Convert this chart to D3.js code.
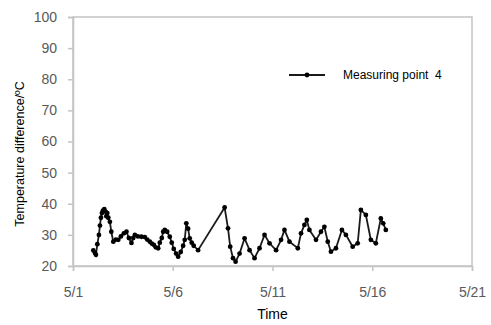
<!DOCTYPE html>
<html>
<head>
<meta charset="utf-8">
<script src="https://cdn.jsdelivr.net/npm/d3@7"></script>
<style>
  body { margin: 0; background: #fff; }
  text { font-family: "Liberation Sans", Arial, sans-serif; }
</style>
</head>
<body>
<div id="container"></div>
<script>
/* CONSTANTS AND GLOBALS */
const width = 491;
const height = 325;
const margin = {top: 17, bottom: 59, left: 73, right: 19};

/* DATA */
// time as day of May (decimal), values in degrees C
const seriesName = "Measuring point  4";
const days = [
  2.02, 2.10, 2.15, 2.22, 2.30, 2.35, 2.40, 2.45, 2.50, 2.57,
  2.62, 2.67, 2.72, 2.77, 2.85, 2.92, 3.02,
  3.15, 3.27, 3.40, 3.55, 3.68, 3.80, 3.93, 4.02, 4.10, 4.25, 4.43, 4.60,
  4.72, 4.85, 4.95, 5.05, 5.15, 5.27, 5.35, 5.45, 5.52, 5.60, 5.72, 5.85,
  5.95, 6.05, 6.17, 6.27, 6.40, 6.52, 6.60, 6.68, 6.77, 6.85, 6.95, 7.05, 7.27,
  8.60, 8.77, 8.88, 9.02, 9.15, 9.35, 9.60, 9.85, 10.10, 10.35, 10.60,
  10.85, 11.18, 11.43, 11.60, 11.85, 12.27, 12.43, 12.60, 12.72, 12.85,
  13.18, 13.43, 13.60, 13.77, 13.93, 14.18, 14.48, 14.68, 15.02, 15.27,
  15.43, 15.68, 15.93, 16.18, 16.43, 16.55, 16.68
];
const values = [
  25.0, 24.2, 23.6, 27.0, 30.0, 33.0, 35.5, 37.0, 37.8, 38.3,
  37.5, 36.0, 37.0, 35.5, 34.2, 31.0, 27.8,
  28.5, 28.4, 29.5, 30.5, 31.0, 29.0, 27.4, 29.0, 30.0, 29.5, 29.4, 29.3,
  28.5, 27.8, 27.2, 26.8, 26.0, 25.7, 27.5, 29.0, 31.0, 31.6, 31.0, 29.4,
  27.5, 25.5, 24.0, 23.0, 24.5, 26.5, 28.4, 33.7, 32.0, 28.9, 27.5, 26.5, 25.1,
  38.8, 32.1, 26.2, 22.5, 21.4, 24.0, 28.9, 25.1, 22.5, 25.7, 30.0,
  27.3, 25.1, 28.4, 31.6, 27.8, 25.7, 30.5, 33.2, 34.8, 31.6,
  28.4, 31.0, 32.6, 27.8, 24.6, 25.7, 31.6, 30.0, 26.2, 27.3,
  38.0, 36.4, 28.4, 27.3, 35.3, 33.7, 31.6
];
const xTicks = [1, 6, 11, 16, 21];
const yTicks = [20, 30, 40, 50, 60, 70, 80, 90, 100];

const data = days.map((d, i) => ({day: d, value: values[i]}));

/* SCALES */
const xScale = d3.scaleLinear()
  .domain([1, 21])
  .range([margin.left, width - margin.right]);

const yScale = d3.scaleLinear()
  .domain([20, 100])
  .range([height - margin.bottom, margin.top]);

/* HTML ELEMENTS */
const svg = d3.select("#container")
  .append("svg")
  .attr("width", width)
  .attr("height", height);

// plot frame
svg.append("rect")
  .attr("x", margin.left)
  .attr("y", margin.top)
  .attr("width", width - margin.right - margin.left)
  .attr("height", height - margin.bottom - margin.top)
  .attr("fill", "none")
  .attr("stroke", "#c4c4c4")
  .attr("stroke-width", 1.5);

// X-axis
const xAxis = d3.axisBottom(xScale)
  .tickValues(xTicks)
  .tickFormat(d => "5/" + d)
  .tickSize(5)
  .tickPadding(16);
const gx = svg.append("g")
  .attr("transform", `translate(0,${height - margin.bottom})`)
  .call(xAxis);

// Y-axis
const yAxis = d3.axisLeft(yScale)
  .tickValues(yTicks)
  .tickSize(5)
  .tickPadding(11);
const gy = svg.append("g")
  .attr("transform", `translate(${margin.left},0)`)
  .call(yAxis);

[gx, gy].forEach(g => {
  g.select(".domain").attr("stroke", "#c4c4c4").attr("stroke-width", 1.5);
  g.selectAll(".tick line").attr("stroke", "#c4c4c4").attr("stroke-width", 1.5);
  g.selectAll(".tick text")
    .attr("fill", "#595959")
    .attr("font-size", 14)
    .attr("font-family", "Liberation Sans, Arial, sans-serif");
});

// axis labels
svg.append("text")
  .attr("text-anchor", "middle")
  .attr("x", xScale(11))
  .attr("y", 319)
  .attr("font-size", 14)
  .attr("fill", "#000")
  .text("Time");

svg.append("text")
  .attr("text-anchor", "middle")
  .attr("transform", `translate(24,154) rotate(-90)`)
  .attr("font-size", 12.5)
  .attr("fill", "#000")
  .text("Temperature difference/ºC");

// line
const line = d3.line()
  .x(d => xScale(d.day))
  .y(d => yScale(d.value));

svg.append("path")
  .datum(data)
  .attr("fill", "none")
  .attr("stroke", "#1a1a1a")
  .attr("stroke-width", 1.8)
  .attr("d", line);

// markers
svg.selectAll("circle.dot")
  .data(data)
  .join("circle")
  .attr("class", "dot")
  .attr("cx", d => xScale(d.day))
  .attr("cy", d => yScale(d.value))
  .attr("r", 2.4)
  .attr("fill", "#000");

// Legend
const legend = svg.append("g").attr("transform", "translate(289,75)");
legend.append("line")
  .attr("x1", 0).attr("x2", 36)
  .attr("y1", 0).attr("y2", 0)
  .attr("stroke", "#1a1a1a")
  .attr("stroke-width", 1.8);
legend.append("circle")
  .attr("cx", 18).attr("cy", 0).attr("r", 2.4)
  .attr("fill", "#000");
legend.append("text")
  .attr("x", 54)
  .attr("y", 4)
  .attr("font-size", 12)
  .attr("fill", "#000")
  .style("white-space", "pre")
  .text(seriesName);
</script>
</body>
</html>
